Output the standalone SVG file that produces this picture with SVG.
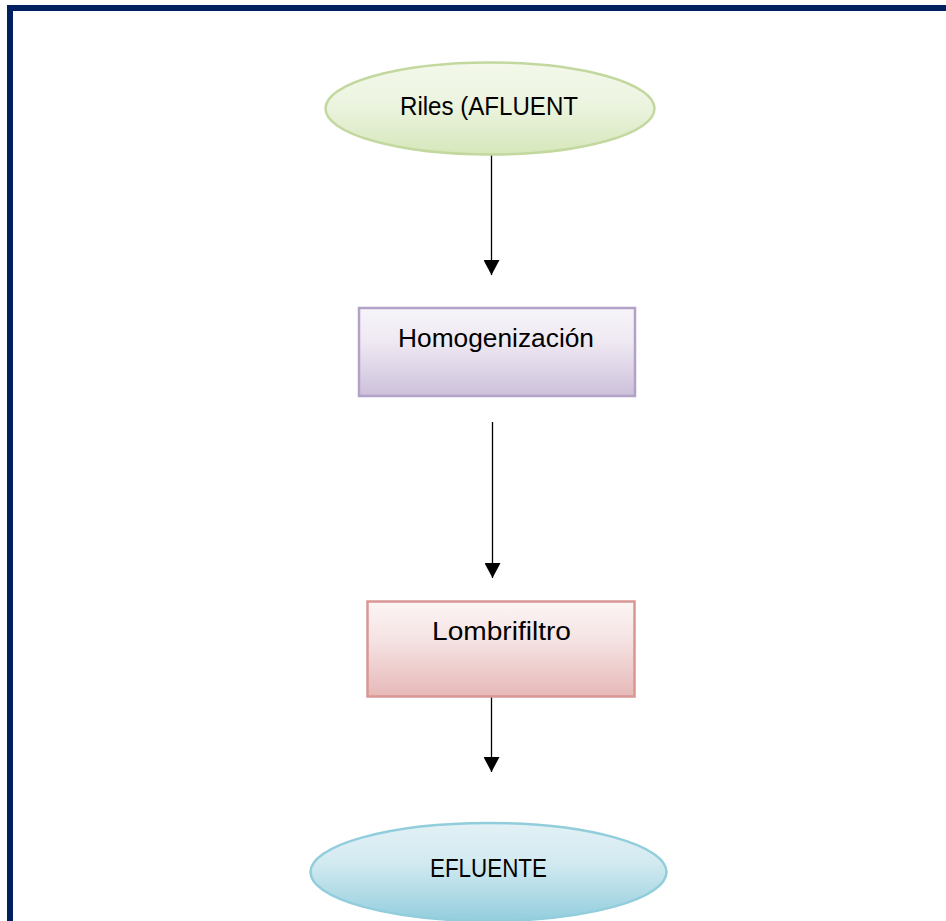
<svg xmlns="http://www.w3.org/2000/svg" width="946" height="921" viewBox="0 0 946 921">
  <defs>
    <linearGradient id="gGreen" x1="0" y1="0" x2="0" y2="1">
      <stop offset="0" stop-color="#f3f8ea"/>
      <stop offset="0.45" stop-color="#ecf4e0"/>
      <stop offset="1" stop-color="#d6e7bb"/>
    </linearGradient>
    <linearGradient id="gPurple" x1="0" y1="0" x2="0" y2="1">
      <stop offset="0" stop-color="#f7f4f9"/>
      <stop offset="0.4" stop-color="#eee8f2"/>
      <stop offset="1" stop-color="#ccc0da"/>
    </linearGradient>
    <linearGradient id="gRed" x1="0" y1="0" x2="0" y2="1">
      <stop offset="0" stop-color="#fdf5f5"/>
      <stop offset="0.4" stop-color="#f5e3e3"/>
      <stop offset="1" stop-color="#e6b9b8"/>
    </linearGradient>
    <linearGradient id="gBlue" x1="0" y1="0" x2="0" y2="1">
      <stop offset="0" stop-color="#e2f1f5"/>
      <stop offset="0.4" stop-color="#d3eaf1"/>
      <stop offset="1" stop-color="#93cddd"/>
    </linearGradient>
    <marker id="arrow" markerUnits="userSpaceOnUse" markerWidth="16" markerHeight="16" viewBox="0 0 16 16" refX="15" refY="8" orient="auto">
      <path d="M0,0 L15,8 L0,16 Z" fill="#000"/>
    </marker>
    <style>
      .lbl { font-family: "Liberation Sans", Arial, sans-serif; font-size: 26px; fill: #000; text-anchor: middle; }
      .conn { stroke: #000; stroke-width: 1.3; fill: none; marker-end: url(#arrow); }
    </style>
  </defs>
  <rect x="0" y="0" width="946" height="921" fill="#fff"/>
  <rect id="frame" x="10" y="8" width="960" height="940" fill="none" stroke="#002060" stroke-width="6"/>

  <g id="connectors">
    <line class="conn" x1="491.5" y1="155" x2="491.5" y2="275"/>
    <line class="conn" x1="492.5" y1="422" x2="492.5" y2="578"/>
    <line class="conn" x1="491.5" y1="689" x2="491.5" y2="772"/>
  </g>

  <g id="riles">
    <ellipse cx="490" cy="108.5" rx="164.5" ry="46" fill="url(#gGreen)" stroke="#c3d89f" stroke-width="2.5"/>
    <text class="lbl" x="489" y="115" textLength="178" lengthAdjust="spacingAndGlyphs">Riles (AFLUENT</text>
  </g>

  <g id="homogenizacion">
    <rect x="359" y="308" width="276" height="88" fill="url(#gPurple)" stroke="#b3a2c7" stroke-width="2.5"/>
    <text class="lbl" x="496" y="347" textLength="196" lengthAdjust="spacingAndGlyphs">Homogenización</text>
  </g>

  <g id="lombrifiltro">
    <rect x="367.5" y="601.5" width="267" height="95" fill="url(#gRed)" stroke="#d99694" stroke-width="2.5"/>
    <text class="lbl" x="501.5" y="640" textLength="139" lengthAdjust="spacingAndGlyphs">Lombrifiltro</text>
  </g>

  <g id="efluente">
    <ellipse cx="488.5" cy="872" rx="178" ry="49" fill="url(#gBlue)" stroke="#92cddc" stroke-width="2.5"/>
    <text class="lbl" x="488.5" y="877" textLength="117" lengthAdjust="spacingAndGlyphs">EFLUENTE</text>
  </g>
</svg>
